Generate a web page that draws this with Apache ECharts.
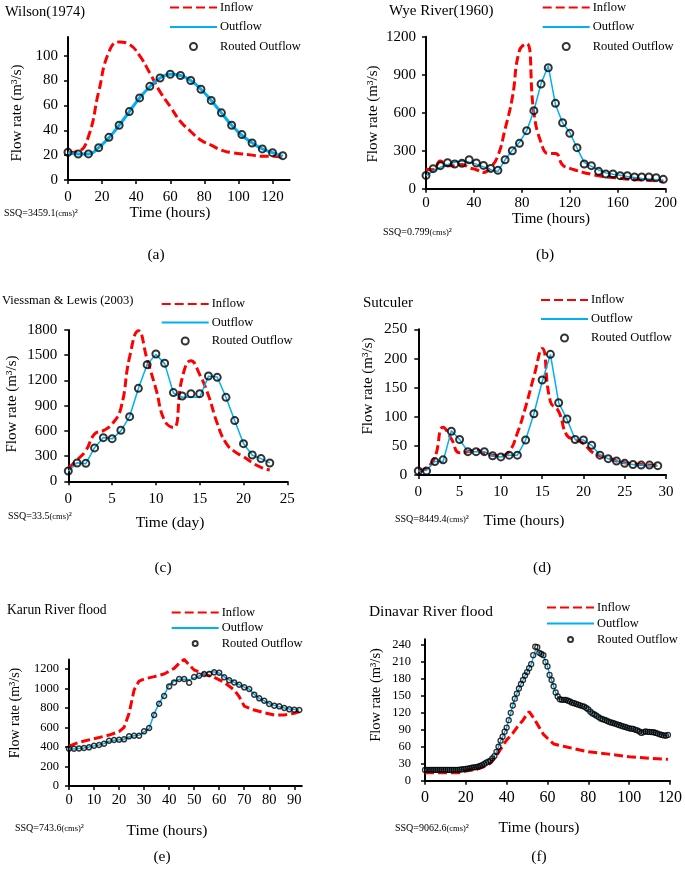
<!DOCTYPE html>
<html>
<head>
<meta charset="utf-8">
<script src="https://cdn.jsdelivr.net/npm/echarts@6/dist/echarts.min.js"></script>
<style>
  html, body {margin: 0; padding: 0; background: #fff;}
  #chart {width: 685px; height: 871px;}
</style>
</head>
<body>
<div id="chart"></div>
<script>
// ---- (a) Wilson(1974), 6 h steps
const wilsonT = [0,6,12,18,24,30,36,42,48,54,60,66,72,78,84,90,96,102,108,114,120,126];
const wilsonIn = [22,23,35,71,103,111,109,100,86,71,59,47,39,32,28,24,22,21,20,19,19,18];
const wilsonOut = [22,21,21,26,34,44,55,66,75,82,85,84,80,73,64,54,44,36,30,25,22,19];
const wilsonRouted = [22.3,20.9,21,26,34.3,44,55,66,75.3,82,85,84,80,73,64,54,44,36.5,29.8,25,22,19.6];

// ---- (b) Wye River(1960), 6 h steps
const wyeT = [0,6,12,18,24,30,36,42,48,54,60,66,72,78,84,90,96,102,108,114,120,126,132,138,144,150,156,162,168,174,180,186,192,198];
const wyeIn = [154,150,219,182,182,192,165,150,128,168,260,471,717,1092,1145,600,365,277,277,187,161,143,126,115,102,93,88,82,76,73,70,67,63,59];
const wyeOut = [102,140,169,190,209,218,210,194,172,149,136,228,303,366,456,615,830,969,665,519,444,321,208,176,148,125,114,106,97,89,81,76,71,66];
const wyeRouted = [105,158,182,205,195,200,229,203,184,160,145,229,300,358,458,616,826,955,674,521,437,324,195,182,137,116,116,103,103,92,92,92,87,74];

// ---- (c) Viessman & Lewis (2003), days
const vlT = [0,1,2,3,4,5,6,7,8,9,10,11,12,13,14,15,16,17,18,19,20,21,22,23];
const vlIn = [155,254,365,563,603,682,868,1480,1792,1450,1100,720,640,1230,1435,1270,1020,690,455,353,293,222,167,135];
const vlOut = [120,220,210,400,520,505,600,770,1105,1390,1510,1400,1050,1000,1000,1000,1250,1240,1000,720,450,310,270,220];
const vlRouted = [123,218,214,397,519,507,607,769,1106,1388,1515,1404,1055,1015,1043,1043,1253,1237,999,722,448,313,270,218];

// ---- (d) Sutculer, hours
const sutT = [0,1,2,3,4,5,6,7,8,9,10,11,12,13,14,15,16,17,18,19,20,21,22,23,24,25,26,27,28,29];
const sutIn = [7,12,30,82,62,38,40,43,37,34,33,40,72,117,169,217,126,109,68,61,54,40,33,29,24,21,19,18,17,16];
const sutOut = [7,8,23,23,76,61,40,40,40,33,31,34,34,60,105,160,207,124,96,61,60,51,34,28,24,20,18,17,16,16];
const sutRouted = [7,7,23,26,75,61,40,40,40,33,31,34,34,60,105,163,207,124,96,61,60,51,34,28,24,20,18,17,17,16];

// ---- (e) Karun River flood, 2 h steps
const karT = [0,2,4,6,8,10,12,14,16,18,20,22,24,26,28,30,32,34,36,38,40,42,44,46,48,50,52,54,56,58,60,62,64,66,68,70,72,74,76,78,80,82,84,86,88,90,92];
const karOut = [380,380,385,390,400,412,422,435,460,470,475,480,505,515,520,555,590,740,850,930,1040,1075,1095,1095,1090,1110,1130,1150,1175,1170,1160,1120,1090,1065,1040,1015,995,940,900,875,845,828,815,800,790,785,780];
const karRouted = [383,383,386,390,397,414,421,434,465,472,475,479,510,516,516,561,595,729,845,924,1023,1064,1099,1099,1061,1119,1133,1150,1150,1167,1164,1116,1085,1064,1040,1013,996,938,900,876,842,825,818,801,787,784,780];
const karInT = [0,4,10,16,20,22,24,26,28,30,34,38,42,44,46,48,50,54,58,62,66,68,70,74,78,82,86,90,92];
const karIn = [410,448,486,523,558,602,746,986,1078,1099,1123,1150,1208,1260,1301,1243,1191,1150,1116,1064,986,917,821,780,753,729,729,746,763];

// ---- (f) Dinavar River flood, 1 h steps
const dinT = [];
for (let i = 0; i < 120; i++) dinT.push(i);
const dinRouted = [19,19,19,19,19,19,19,19,19,19,19,19,19,19,19,19,19,19.5,20,20.5,
  21,21.5,22.4,23,23.6,24,24.8,26,27.7,29.5,31.8,33.6,35.4,39.5,43.6,51,60,70.7,77.8,86.6,
  94,107,120,133,145,154,163,171,178,186,192,199,206,222,237,236,226,224,222,210,
  202,187,178,167,156,149,144,143,143,143,141.5,140,138,137,135.7,134.5,133.3,132,131,128.5,
  126,122,119,117,115,112.5,110,108.7,107.4,106,104.3,103,102,101,99.7,98.5,97.3,96,95,93.8,
  92.6,92,91.5,90,89,87,84.5,86,87,86.5,86.3,86,85.7,84.5,83.3,82,81,80,79.6,81];
const dinOut = [19,19,19,19,19,19,19,19,19,19,19,19,19,19,19,19,19,19.5,20,20.5,
  21,21.5,22,23,23.6,24,24.8,26,27.7,29.5,31.8,33.6,35.4,39.5,43.6,51,60,70.7,77.8,86.6,
  94,107,120,133,145,154,163,171,178,186,192,199,206,218,230,233,226,224,222,210,
  202,187,178,167,156,149,144,143,143,143,141.5,140,138,137,135.7,134.5,133.3,132,131,128.5,
  126,122,119,117,115,112.5,110,108.7,107.4,106,104.3,103,102,101,99.7,98.5,97.3,96,95,93.8,
  92.6,92,91.5,90,89,87,85,86,87,86.5,86.3,86,85.7,84.5,83.3,82,81,80,79.6,80];
const dinInT = [0,17,20,25,30,32,35,38,40,43,45,48,50,51,53,55,57,58,60,63,70,80,90,100,110,119];
const dinIn = [14,14,17,20,26,31,45,61,72,84,94,107,118,122,112,100,88,82,75,65,59,51,47,42.5,39.6,37.8];

// tick labels
const xTicksA = [0,20,40,60,80,100,120], yTicksA = [0,20,40,60,80,100];
const xTicksB = [0,40,80,120,160,200], yTicksB = [0,300,600,900,1200];
const xTicksC = [0,5,10,15,20,25], yTicksC = [0,300,600,900,1200,1500,1800];
const xTicksD = [0,5,10,15,20,25,30], yTicksD = [0,50,100,150,200,250];
const xTicksE = [0,10,20,30,40,50,60,70,80,90], yTicksE = [0,200,400,600,800,1000,1200];
const xTicksF = [0,20,40,60,80,100,120], yTicksF = [0,30,60,90,120,150,180,210,240];

const FONT = 'Liberation Serif';
const RED = '#ff0000', BLUE = '#00b0f0';

function pairs(xs, ys) {
  return xs.map((x, i) => [x, ys[i]]);
}

// panel layouts
const panels = [
  {key: 'a', grid: {left: 68, top: 37, width: 221.6, height: 143}, xMax: 130, yMax: 115, xT: xTicksA, yT: yTicksA,
   xFs: 15, yFs: 15, xM: 10, yM: 10, legend: {left: 169, top: 1, gap: 6.5}, mk: 7, mkW: 2, outW: 3, inSmooth: true, outSmooth: true,
   inD: pairs(wilsonT, wilsonIn), outD: pairs(wilsonT, wilsonOut), rtD: pairs(wilsonT, wilsonRouted)},
  {key: 'b', grid: {left: 426, top: 36.7, width: 239.7, height: 152}, xMax: 200, yMax: 1200, xT: xTicksB, yT: yTicksB,
   xFs: 15, yFs: 15, xM: 7, yM: 10, legend: {left: 541.7, top: 1, gap: 6.5}, mk: 7, mkW: 2, outW: 1.5, inSmooth: true, outSmooth: false,
   inD: pairs(wyeT, wyeIn), outD: pairs(wyeT, wyeOut), rtD: pairs(wyeT, wyeRouted)},
  {key: 'c', grid: {left: 68.3, top: 330, width: 219, height: 151.3}, xMax: 25, yMax: 1800, xT: xTicksC, yT: yTicksC,
   xFs: 15, yFs: 15, xM: 10, yM: 11, legend: {left: 160.7, top: 297.5, gap: 5.5}, mk: 7, mkW: 2, outW: 1.5, inSmooth: true, outSmooth: false,
   inD: pairs(vlT, vlIn), outD: pairs(vlT, vlOut), rtD: pairs(vlT, vlRouted)},
  {key: 'd', grid: {left: 418.3, top: 329.3, width: 247.7, height: 145.7}, xMax: 30, yMax: 250, xT: xTicksD, yT: yTicksD,
   xFs: 15, yFs: 15.5, xM: 10, yM: 11, legend: {left: 540, top: 293.5, gap: 6}, mk: 7, mkW: 2, outW: 1.5, inSmooth: true, outSmooth: false,
   inD: pairs(sutT, sutIn), outD: pairs(sutT, sutOut), rtD: pairs(sutT, sutRouted)},
  {key: 'e', grid: {left: 69, top: 659.4, width: 232.8, height: 126.6}, xMax: 93, yMax: 1300, xT: xTicksE, yT: yTicksE,
   xFs: 14.5, yFs: 12.5, xM: 7, yM: 10, legend: {left: 170.7, top: 606, gap: 2.5}, mk: 5, mkW: 1.5, outW: 1.5, inSmooth: false, outSmooth: false,
   inD: pairs(karInT, karIn), outD: pairs(karT, karOut), rtD: pairs(karT, karRouted)},
  {key: 'f', grid: {left: 425, top: 639.3, width: 246.6, height: 141.4}, xMax: 120, yMax: 250, xT: xTicksF, yT: yTicksF,
   xFs: 16, yFs: 12.5, xM: 9, yM: 14, legend: {left: 546, top: 601, gap: 3}, mk: 5, mkW: 1.3, outW: 1.3, inSmooth: false, outSmooth: false,
   inD: pairs(dinInT, dinIn), outD: pairs(dinT, dinOut), rtD: pairs(dinT, dinRouted)}
];

const grids = [], xAxes = [], yAxes = [], series = [], legends = [];
panels.forEach(function (p, i) {
  grids.push(Object.assign({containLabel: false}, p.grid));
  const axLine = {show: true, lineStyle: {color: '#000', width: 2}};
  xAxes.push({gridIndex: i, type: 'value', min: 0, max: p.xMax, axisLine: axLine, splitLine: {show: false},
    axisTick: {show: true, inside: false, length: 4, customValues: p.xT, lineStyle: {color: '#000', width: 1.5}},
    axisLabel: {customValues: p.xT, formatter: v => String(v), margin: p.xM, color: '#000', fontFamily: FONT, fontSize: p.xFs}});
  yAxes.push({gridIndex: i, type: 'value', min: 0, max: p.yMax, axisLine: axLine, splitLine: {show: false},
    axisTick: {show: true, inside: false, length: 4, customValues: p.yT, lineStyle: {color: '#000', width: 1.5}},
    axisLabel: {customValues: p.yT, formatter: v => String(v), margin: p.yM, color: '#000', fontFamily: FONT, fontSize: p.yFs}});
  const nIn = 'Inflow#' + p.key, nOut = 'Outflow#' + p.key, nRt = 'Routed Outflow#' + p.key;
  series.push({name: nIn, type: 'line', xAxisIndex: i, yAxisIndex: i, data: p.inD, symbol: 'none', smooth: p.inSmooth,
    lineStyle: {color: RED, width: 3, type: [9, 4]}, itemStyle: {color: RED}, z: 2});
  series.push({name: nOut, type: 'line', xAxisIndex: i, yAxisIndex: i, data: p.outD, symbol: 'none', smooth: p.outSmooth,
    lineStyle: {color: BLUE, width: p.outW}, itemStyle: {color: BLUE}, z: 3});
  series.push({name: nRt, type: 'scatter', xAxisIndex: i, yAxisIndex: i, data: p.rtD, symbol: 'circle', symbolSize: p.mk,
    itemStyle: {color: 'rgba(0,0,0,0)', borderColor: '#000', borderWidth: p.mkW}, z: 4});
  legends.push({orient: 'vertical', left: p.legend.left, top: p.legend.top, padding: 0,
    itemWidth: 47, itemHeight: p.mk, itemGap: p.legend.gap, selectedMode: false,
    formatter: name => name.split('#')[0],
    textStyle: {color: '#000', fontFamily: FONT, fontSize: 12.5, padding: [0, 0, 0, -2]},
    data: [{name: nIn, itemStyle: {opacity: 0}}, {name: nOut, itemStyle: {opacity: 0}}, nRt]});
});

function txt(x, y, s, size, align, rot) {
  return {type: 'text', x: x, y: y, rotation: rot || 0,
    style: {text: s, fill: '#000', font: size + 'px "' + FONT + '"', align: align || 'left', verticalAlign: 'middle'}};
}
function ssq(x, y, val) {
  return {type: 'text', x: x, y: y,
    style: {text: '{m|SSQ=' + val + '}{s|(cms)}{m|²}', fill: '#000', align: 'left', verticalAlign: 'middle',
      rich: {m: {fontFamily: FONT, fontSize: 10, fill: '#000'}, s: {fontFamily: FONT, fontSize: 8.5, fill: '#000', verticalAlign: 'bottom'}}}};
}
const yName = 'Flow rate (m³/s)';
const R = Math.PI / 2;
const graphics = [
  txt(5, 11.7, 'Wilson(1974)', 14.5), txt(389, 10.7, 'Wye River(1960)', 15),
  txt(2, 301, 'Viessman & Lewis (2003)', 12.5), txt(363, 303, 'Sutculer', 15),
  txt(7, 610, 'Karun River flood', 13.6), txt(369, 612, 'Dinavar River flood', 15.4),
  txt(16.7, 113, yName, 15, 'center', R), txt(373, 114, yName, 15, 'center', R),
  txt(11.7, 404, yName, 15, 'center', R), txt(368, 386, yName, 15, 'center', R),
  txt(15, 713, yName, 14, 'center', R), txt(376, 695, yName, 14.5, 'center', R),
  ssq(4, 213, '3459.1'), txt(170, 213, 'Time (hours)', 15.5, 'center'), txt(156, 255, '(a)', 15.5, 'center'),
  ssq(383, 232, '0.799'), txt(551, 219, 'Time (hours)', 15, 'center'), txt(545, 255, '(b)', 15.5, 'center'),
  ssq(8, 516, '33.5'), txt(170, 523, 'Time (day)', 15.5, 'center'), txt(163, 568, '(c)', 15.5, 'center'),
  ssq(395, 519, '8449.4'), txt(524, 521, 'Time (hours)', 15.5, 'center'), txt(542, 568, '(d)', 15.5, 'center'),
  ssq(15, 828, '743.6'), txt(167, 831, 'Time (hours)', 15.5, 'center'), txt(162, 857, '(e)', 15.5, 'center'),
  ssq(395, 828, '9062.6'), txt(539, 828, 'Time (hours)', 15.5, 'center'), txt(539, 857, '(f)', 15.5, 'center')
];

const chart = echarts.init(document.getElementById('chart'), null, {renderer: 'canvas'});
chart.setOption({
  animation: false,
  backgroundColor: '#fff',
  grid: grids,
  xAxis: xAxes,
  yAxis: yAxes,
  legend: legends,
  series: series,
  graphic: graphics
});
</script>
</body>
</html>
